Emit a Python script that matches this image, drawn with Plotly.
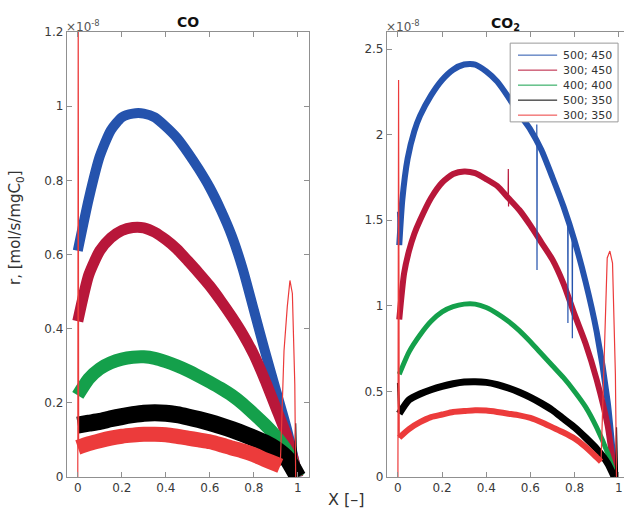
import plotly.graph_objects as go

# ---------------- data (rate values in units of 1e-8 mol/s/mgC0) ----------------
SERIES_NAMES = ["500; 450", "300; 450", "400; 400", "500; 350", "300; 350"]
SERIES_COLORS = ["#2553ad", "#b8173a", "#14a04b", "#000000", "#ec3b3b"]

X_TICKS = [0, 0.2, 0.4, 0.6, 0.8, 1.0]
X_TICKTEXT = ["0", "0.2", "0.4", "0.6", "0.8", "1"]
CO_YTICKS = [0, 0.2, 0.4, 0.6, 0.8, 1.0, 1.2]
CO_YTICKTEXT = ["0", "0.2", "0.4", "0.6", "0.8", "1", "1.2"]
CO2_YTICKS = [0, 0.5, 1.0, 1.5, 2.0, 2.5]
CO2_YTICKTEXT = ["0", "0.5", "1", "1.5", "2", "2.5"]

# ---- CO panel ----
co_x = [0.0, 0.05, 0.1, 0.15, 0.2, 0.25, 0.3, 0.35, 0.4, 0.45, 0.5,
        0.55, 0.6, 0.65, 0.7, 0.75, 0.8, 0.85, 0.9, 0.95, 1.0]
co_blue = [0.61, 0.75, 0.865, 0.935, 0.97, 0.98, 0.98, 0.97, 0.945, 0.915, 0.875,
           0.83, 0.78, 0.72, 0.65, 0.56, 0.45, 0.34, 0.235, 0.13, 0.0]
co_crimson = [0.42, 0.545, 0.61, 0.645, 0.665, 0.673, 0.672, 0.66, 0.64, 0.615, 0.583,
              0.55, 0.515, 0.475, 0.432, 0.385, 0.33, 0.262, 0.187, 0.11, 0.0]
co_green = [0.22, 0.265, 0.292, 0.308, 0.318, 0.323, 0.324, 0.32, 0.311, 0.3, 0.287,
            0.272, 0.256, 0.239, 0.22, 0.197, 0.17, 0.142, 0.11, 0.07, 0.0]
co_black = [0.14, 0.145, 0.15, 0.157, 0.163, 0.168, 0.172, 0.173, 0.172, 0.168, 0.162,
            0.155, 0.147, 0.138, 0.128, 0.117, 0.105, 0.092, 0.075, 0.05, 0.0]
co_red_x = [0.0, 0.05, 0.1, 0.15, 0.2, 0.25, 0.3, 0.35, 0.4, 0.45, 0.5,
            0.55, 0.6, 0.65, 0.7, 0.75, 0.8, 0.85, 0.9, 0.92]
co_red = [0.08, 0.09, 0.098, 0.105, 0.11, 0.113, 0.115, 0.115, 0.114, 0.11, 0.105,
          0.1, 0.095, 0.087, 0.078, 0.07, 0.06, 0.047, 0.035, 0.03]
# thin features of the runs (start transients and end peaks)
co_red_start_x = [0.0, 0.002, 0.004]
co_red_start_y = [0.0, 1.3, 0.08]
co_red_tail_x = [0.92, 0.937, 0.952, 0.964, 0.975, 0.986, 0.99]
co_red_tail_y = [0.03, 0.34, 0.46, 0.53, 0.495, 0.25, 0.0]
co_black_tail_x = [0.985, 0.99, 0.995]
co_black_tail_y = [0.04, 0.145, 0.0]

# ---- CO2 panel ----
co2_blue_x = [0.006, 0.02, 0.044, 0.074, 0.1, 0.15, 0.2, 0.25, 0.3, 0.35, 0.4,
              0.45, 0.5, 0.55, 0.6, 0.65, 0.7, 0.75, 0.8, 0.85, 0.9, 0.95, 0.98]
co2_blue = [1.355, 1.62, 1.86, 2.02, 2.11, 2.23, 2.32, 2.38, 2.41, 2.41, 2.37,
            2.31, 2.22, 2.12, 2.03, 1.91, 1.75, 1.58, 1.38, 1.14, 0.85, 0.44, 0.04]
co2_crimson_x = [0.006, 0.028, 0.05, 0.074, 0.1, 0.15, 0.2, 0.25, 0.3, 0.35, 0.4,
                 0.45, 0.5, 0.55, 0.6, 0.65, 0.7, 0.75, 0.8, 0.85, 0.9, 0.95, 0.98]
co2_crimson = [0.92, 1.19, 1.32, 1.42, 1.5, 1.63, 1.72, 1.77, 1.785, 1.775, 1.74,
               1.70, 1.63, 1.56, 1.47, 1.37, 1.27, 1.13, 0.95, 0.78, 0.57, 0.30, 0.02]
co2_x = [0.006, 0.05, 0.1, 0.15, 0.2, 0.25, 0.3, 0.35, 0.4, 0.45, 0.5,
         0.55, 0.6, 0.65, 0.7, 0.75, 0.8, 0.85, 0.9, 0.95, 0.98]
co2_green = [0.6, 0.73, 0.83, 0.91, 0.965, 0.995, 1.01, 1.01, 0.99, 0.955, 0.91,
             0.855, 0.79, 0.72, 0.65, 0.58, 0.5, 0.41, 0.29, 0.14, 0.02]
co2_black = [0.37, 0.45, 0.485, 0.51, 0.53, 0.545, 0.555, 0.557, 0.553, 0.54, 0.52,
             0.495, 0.465, 0.43, 0.39, 0.34, 0.29, 0.23, 0.165, 0.08, 0.0]
co2_red_x = [0.006, 0.05, 0.1, 0.15, 0.2, 0.25, 0.3, 0.35, 0.4, 0.45, 0.5,
             0.55, 0.6, 0.65, 0.7, 0.75, 0.8, 0.85, 0.9, 0.92]
co2_red = [0.23, 0.28, 0.32, 0.35, 0.365, 0.38, 0.385, 0.39, 0.388, 0.38, 0.37,
           0.36, 0.345, 0.32, 0.29, 0.26, 0.225, 0.175, 0.115, 0.09]
co2_blue_start_x = [0.0, 0.006]
co2_blue_start_y = [1.55, 1.355]
co2_red_start_x = [0.0, 0.003, 0.006]
co2_red_start_y = [0.0, 2.32, 0.23]
co2_red_tail_x = [0.92, 0.935, 0.948, 0.96, 0.972, 0.985, 0.99]
co2_red_tail_y = [0.09, 0.8, 1.28, 1.32, 1.25, 0.6, 0.0]
co2_black_start_x = [0.0, 0.006]
co2_black_start_y = [0.55, 0.37]
co2_black_tail_x = [0.985, 0.99, 0.995]
co2_black_tail_y = [0.0, 0.29, 0.0]
co2_blue_spikes_x = [0.629, 0.63, 0.631, None, 0.769, 0.77, 0.771, None, 0.789, 0.79, 0.791]
co2_blue_spikes_y = [2.06, 1.21, 1.96, None, 1.52, 0.90, 1.50, None, 1.42, 0.81, 1.40]
co2_crimson_spike_x = [0.499, 0.5, 0.501, 0.502]
co2_crimson_spike_y = [1.62, 1.80, 1.58, 1.63]

# ---------------- styling ----------------
FONT = "DejaVu Sans"
TEXT_COLOR = "#3a3a3a"
AXIS_COLOR = "#909090"
CO_WIDTHS = [10, 11, 13, 17, 15]
CO2_WIDTHS = [6, 6, 5, 7, 6]

fig = go.Figure()


def add_main(x, y, i, width, xa, ya):
    fig.add_trace(go.Scatter(
        x=x, y=y, mode="lines", xaxis=xa, yaxis=ya, showlegend=False,
        line=dict(color=SERIES_COLORS[i], width=width, shape="spline", smoothing=0.6),
        hoverinfo="skip"))


def add_thin(x, y, i, xa, ya, width=1.2):
    fig.add_trace(go.Scatter(
        x=x, y=y, mode="lines", xaxis=xa, yaxis=ya, showlegend=False,
        line=dict(color=SERIES_COLORS[i], width=width), connectgaps=False,
        hoverinfo="skip"))


# CO panel
co_sets = [(co_x, co_blue), (co_x, co_crimson), (co_x, co_green), (co_x, co_black), (co_red_x, co_red)]
for i, (xs, ys) in enumerate(co_sets):
    add_main(xs, ys, i, CO_WIDTHS[i], "x", "y")
add_thin(co_black_tail_x, co_black_tail_y, 3, "x", "y")
add_thin(co_red_start_x, co_red_start_y, 4, "x", "y")
add_thin(co_red_tail_x, co_red_tail_y, 4, "x", "y")

# CO2 panel
co2_sets = [(co2_blue_x, co2_blue), (co2_crimson_x, co2_crimson), (co2_x, co2_green),
            (co2_x, co2_black), (co2_red_x, co2_red)]
for i, (xs, ys) in enumerate(co2_sets):
    add_main(xs, ys, i, CO2_WIDTHS[i], "x2", "y2")
add_thin(co2_blue_start_x, co2_blue_start_y, 0, "x2", "y2", 2)
add_thin(co2_blue_spikes_x, co2_blue_spikes_y, 0, "x2", "y2")
add_thin(co2_crimson_spike_x, co2_crimson_spike_y, 1, "x2", "y2")
add_thin(co2_black_start_x, co2_black_start_y, 3, "x2", "y2", 2)
add_thin(co2_black_tail_x, co2_black_tail_y, 3, "x2", "y2")
add_thin(co2_red_start_x, co2_red_start_y, 4, "x2", "y2")
add_thin(co2_red_tail_x, co2_red_tail_y, 4, "x2", "y2")

axis_common = dict(showline=True, linecolor=AXIS_COLOR, linewidth=1, ticks="inside",
                   ticklen=5, tickcolor=AXIS_COLOR, showgrid=False, zeroline=False,
                   tickfont=dict(family=FONT, size=12, color=TEXT_COLOR))

fig.update_layout(
    width=624, height=508,
    margin=dict(l=0, r=0, t=32, b=31),
    paper_bgcolor="white", plot_bgcolor="white",
    showlegend=False,
    xaxis=dict(domain=[0.107, 0.495], range=[-0.05, 1.05], tickvals=X_TICKS,
               ticktext=X_TICKTEXT, mirror="ticks", anchor="y", **axis_common),
    yaxis=dict(domain=[0, 1], range=[0, 1.2], tickvals=CO_YTICKS, ticktext=CO_YTICKTEXT,
               mirror="ticks", anchor="x", **axis_common),
    xaxis2=dict(domain=[0.62, 1.0], range=[-0.05, 1.024], tickvals=X_TICKS,
                ticktext=X_TICKTEXT, mirror="ticks", anchor="y2", **axis_common),
    yaxis2=dict(domain=[0, 1], range=[0, 2.6], tickvals=CO2_YTICKS, ticktext=CO2_YTICKTEXT,
                mirror=False, anchor="x2", **axis_common),
)

ann = []
# panel titles
ann.append(dict(text="<b>CO</b>", xref="x domain", yref="y domain", x=0.5, y=1,
                xanchor="center", yanchor="bottom", yshift=0, showarrow=False,
                font=dict(family=FONT, size=14, color="#111")))
ann.append(dict(text="<b>CO<sub>2</sub></b>", xref="x2 domain", yref="y2 domain", x=0.5, y=1,
                xanchor="center", yanchor="bottom", yshift=-3, showarrow=False,
                font=dict(family=FONT, size=14, color="#111")))
# exponent labels
for xr, yr in [("x domain", "y domain"), ("x2 domain", "y2 domain")]:
    ann.append(dict(text="×10<sup>-8</sup>", xref=xr, yref=yr, x=0, y=1, xanchor="left",
                    yanchor="bottom", xshift=-3, yshift=-4, showarrow=False,
                    font=dict(family=FONT, size=12, color="#555")))
# axis titles
ann.append(dict(text="r, [mol/s/mgC<sub>0</sub>]", xref="paper", yref="paper", x=0.026, y=0.56,
                xanchor="center", yanchor="middle", textangle=-90, showarrow=False,
                font=dict(family=FONT, size=15, color="#333")))
ann.append(dict(text="X [–]", xref="paper", yref="paper", x=0.556, y=-0.05,
                xanchor="center", yanchor="middle", showarrow=False,
                font=dict(family=FONT, size=16, color="#333")))

# manual legend (compact MATLAB-like box) inside the CO2 panel
LEG_X0, LEG_X1, LEG_Y0, LEG_Y1 = 0.52, 0.975, 0.798, 0.975
LEG_LINE_X0, LEG_LINE_X1, LEG_TEXT_X = 0.553, 0.718, 0.733
LEG_ROW0, LEG_ROW_STEP = 0.948, 0.0337
shapes = [dict(type="rect", xref="x2 domain", yref="y2 domain", x0=LEG_X0, x1=LEG_X1,
               y0=LEG_Y0, y1=LEG_Y1, line=dict(color="#9a9a9a", width=1), fillcolor="white",
               layer="above")]
for i, name in enumerate(SERIES_NAMES):
    yy = LEG_ROW0 - i * LEG_ROW_STEP
    shapes.append(dict(type="line", xref="x2 domain", yref="y2 domain", x0=LEG_LINE_X0,
                       x1=LEG_LINE_X1, y0=yy, y1=yy, layer="above",
                       line=dict(color=SERIES_COLORS[i], width=1)))
    ann.append(dict(text=name, xref="x2 domain", yref="y2 domain", x=LEG_TEXT_X, y=yy,
                    xanchor="left", yanchor="middle", showarrow=False,
                    font=dict(family=FONT, size=11, color="#333")))

fig.update_layout(annotations=ann, shapes=shapes)
fig.write_html("out.html")
